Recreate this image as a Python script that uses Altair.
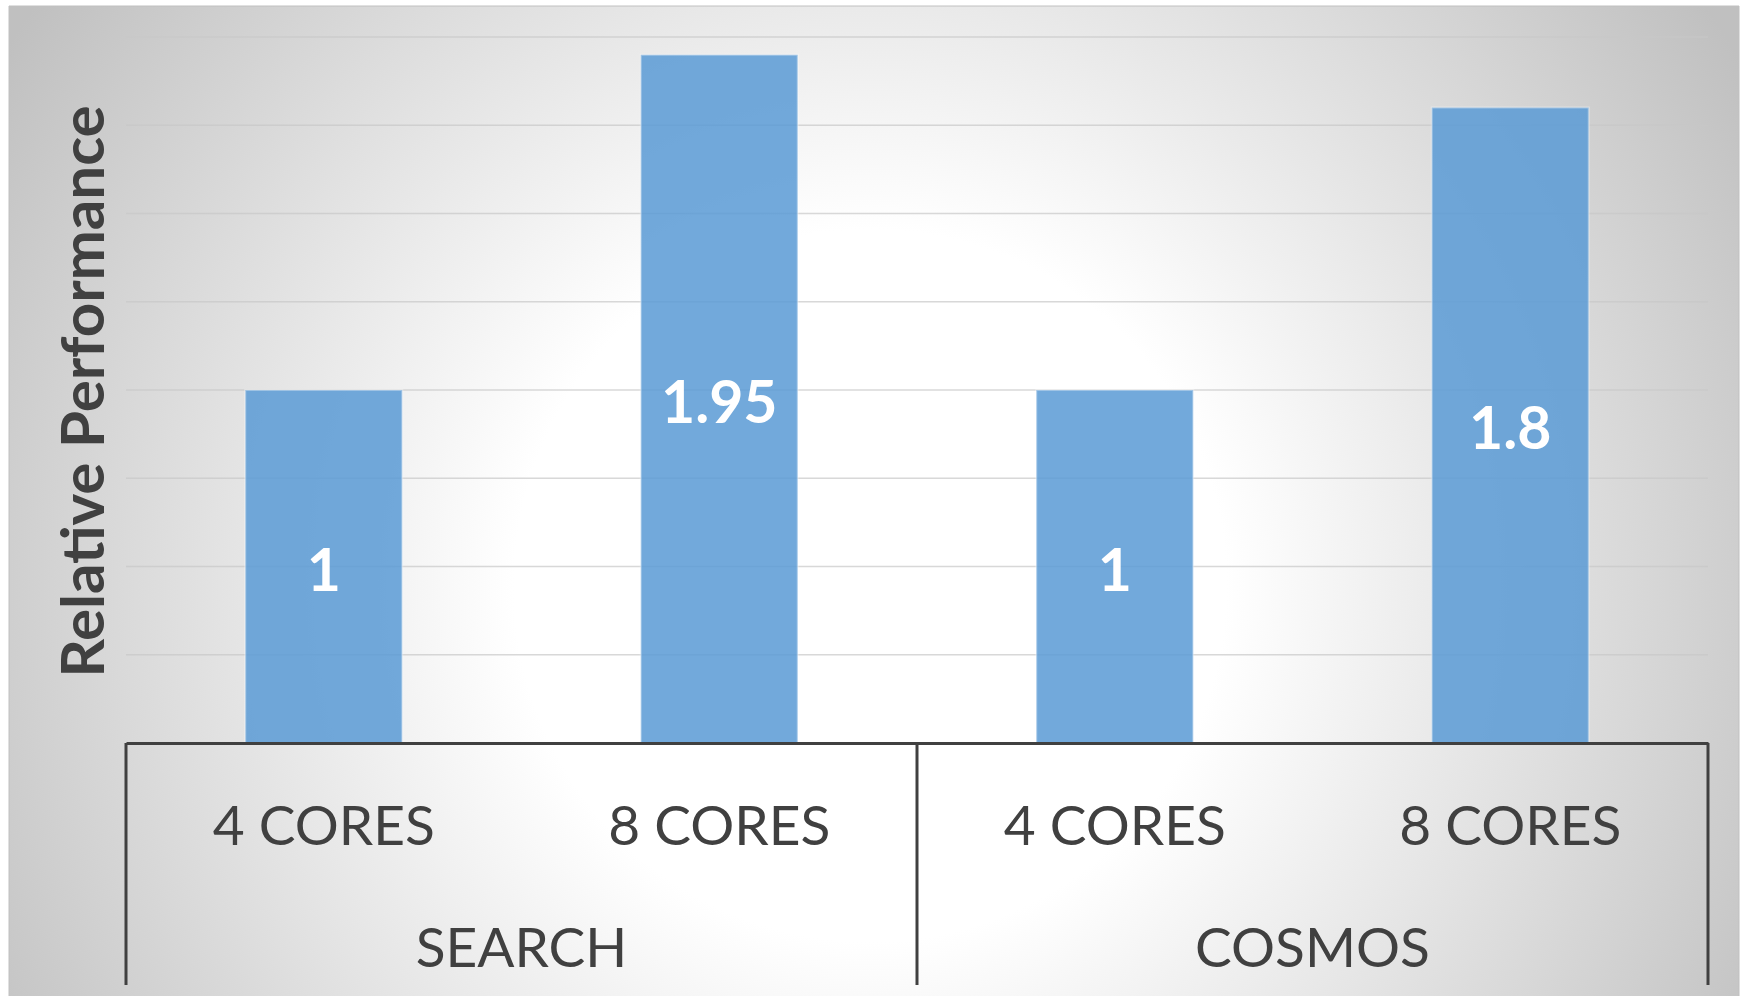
import altair as alt
import pandas as pd

# ---- data ----
groups = ["SEARCH", "SEARCH", "COSMOS", "COSMOS"]
cores = ["4 CORES", "8 CORES", "4 CORES", "8 CORES"]
values = [1, 1.95, 1, 1.8]
grid_values = [0.25, 0.5, 0.75, 1.0, 1.25, 1.5, 1.75, 2.0]
group_names = ["SEARCH", "COSMOS"]

cats = [f"{g}|{c}" for g, c in zip(groups, cores)]
df = pd.DataFrame({"cat": cats, "group": groups, "cores": cores, "value": values})
df["label"] = [f"{v:g}" for v in values]

W, H = 1582, 706
FONT = "Lato"
DARK = "#404040"

xscale = alt.Scale(domain=cats, paddingInner=0, paddingOuter=0)
yscale = alt.Scale(domain=[0, 2], nice=False, zero=True)

x_axis = alt.Axis(
    title=None, labelExpr="split(datum.label, '|')[1]", ticks=False, tickSize=0,
    domain=True, domainColor=DARK, domainWidth=3, labelFont=FONT, labelFontSize=55,
    labelColor=DARK, labelPadding=101, labelBaseline="alphabetic", grid=False,
    zindex=1, labelAngle=0, labelLimit=0,
)
y_axis = alt.Axis(
    title="Relative Performance", labels=False, ticks=False, domain=False, grid=False,
    titleFont=FONT, titleFontSize=60, titleFontWeight="bold", titleColor=DARK,
    titleAngle=270, titleX=-23, titleY=354, titleAlign="center",
    titleBaseline="alphabetic", zindex=1, titleLimit=0,
)

bg = alt.Chart(alt.Data(values=[{"k": 1}])).mark_rect(
    fill=alt.RadialGradient(
        gradient="radial",
        stops=[
            alt.GradientStop(color="#ffffff", offset=0),
            alt.GradientStop(color="#ffffff", offset=0.35),
            alt.GradientStop(color="#c0c0c0", offset=1),
        ],
        x1=0.4977, y1=0.548, r1=0, x2=0.4977, y2=0.548, r2=0.588,
    ),
    stroke="#c0c0c0", strokeWidth=1,
).encode(x=alt.value(-117), x2=alt.value(1613), y=alt.value(-31), y2=alt.value(962))

grid = alt.Chart(pd.DataFrame({"g": grid_values})).mark_rule(
    color="#c8c8c8", opacity=0.7, strokeWidth=1.5
).encode(y=alt.Y("g:Q", scale=yscale, axis=y_axis))

bars = alt.Chart(df).mark_bar(
    width=alt.RelativeBandSize(0.397), color="#5b9bd5", fillOpacity=0.86,
    stroke="#ffffff", strokeOpacity=0.35, strokeWidth=2,
).encode(
    x=alt.X("cat:N", scale=xscale, axis=x_axis),
    y=alt.Y("value:Q", scale=yscale, axis=y_axis),
)

bar_labels = alt.Chart(df).transform_calculate(mid="datum.value / 2").mark_text(
    font=FONT, fontSize=59, fontWeight="bold", color="#ffffff", baseline="middle", dy=6
).encode(
    x=alt.X("cat:N", scale=xscale, axis=x_axis),
    y=alt.Y("mid:Q", scale=yscale, axis=y_axis),
    text="label:N",
)

grp_df = pd.DataFrame({"cat": [cats[0], cats[2]], "name": group_names})
group_labels = alt.Chart(grp_df).mark_text(
    font=FONT, fontSize=55, color=DARK, baseline="alphabetic", align="center"
).encode(
    x=alt.X("cat:N", scale=xscale, axis=x_axis, bandPosition=1),
    y=alt.value(930),
    text="name:N",
)

sep_left = alt.Chart(pd.DataFrame({"cat": [cats[0], cats[2]]})).mark_rule(
    color=DARK, strokeWidth=3
).encode(
    x=alt.X("cat:N", scale=xscale, axis=x_axis, bandPosition=0),
    y=alt.value(H), y2=alt.value(948),
)
sep_right = alt.Chart(pd.DataFrame({"cat": [cats[3]]})).mark_rule(
    color=DARK, strokeWidth=3
).encode(
    x=alt.X("cat:N", scale=xscale, axis=x_axis, bandPosition=1),
    y=alt.value(H), y2=alt.value(948),
)

chart = alt.layer(bg, grid, bars, bar_labels, group_labels, sep_left, sep_right).properties(
    width=W, height=H,
    autosize=alt.AutoSizeParams(type="none"),
    padding={"left": 126, "top": 37, "right": 37, "bottom": 253},
    background="#ffffff",
).configure_view(stroke=None)

chart.save("out.html", embed_options={"renderer": "svg", "actions": False})
